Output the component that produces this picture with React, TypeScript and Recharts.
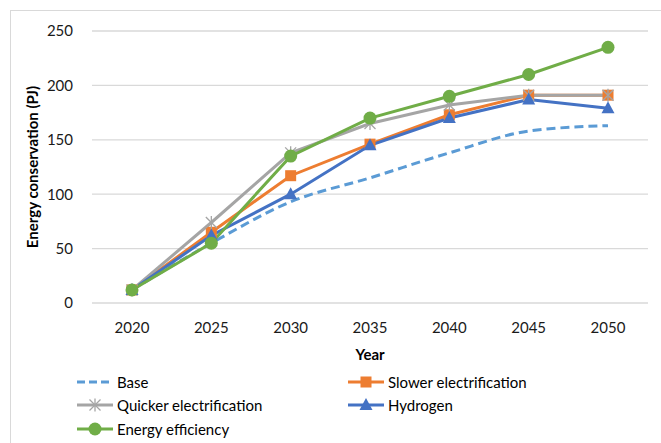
import React from 'react'
import { CartesianGrid, Line, LineChart, XAxis, YAxis } from 'recharts'

const years = ['2020', '2025', '2030', '2035', '2040', '2045', '2050']
const base = [12, 55, 93, 115, 138, 158, 163]
const slower = [12, 65, 117, 146, 173, 191, 191]
const quicker = [12, 74, 138, 165, 182, 191, 191]
const hydrogen = [12, 62, 100, 145, 170, 187, 179]
const efficiency = [12, 55, 135, 170, 190, 210, 235]
const yTicks = [0, 50, 100, 150, 200, 250]

const data = years.map((year, i) => ({
    year,
    base: base[i],
    slower: slower[i],
    quicker: quicker[i],
    hydrogen: hydrogen[i],
    efficiency: efficiency[i],
}))

type Marker = 'none' | 'square' | 'star' | 'triangle' | 'circle'

interface SeriesDef {
    key: string
    name: string
    color: string
    marker: Marker
    dashed?: boolean
    smooth?: boolean
}

const series: SeriesDef[] = [
    { key: 'base', name: 'Base', color: '#5B9BD5', marker: 'none', dashed: true, smooth: true },
    { key: 'slower', name: 'Slower electrification', color: '#ED7D31', marker: 'square' },
    { key: 'quicker', name: 'Quicker electrification', color: '#A5A5A5', marker: 'star' },
    { key: 'hydrogen', name: 'Hydrogen', color: '#4472C4', marker: 'triangle' },
    { key: 'efficiency', name: 'Energy efficiency', color: '#70AD47', marker: 'circle' },
]

// legend order: two columns, filled row by row
const legendOrder = ['base', 'slower', 'quicker', 'hydrogen', 'efficiency']

const FONT = 'Lato, "Noto Sans", sans-serif'

function markerShape(marker: Marker, color: string, cx: number, cy: number, key?: string | number) {
    switch (marker) {
        case 'square':
            return <rect key={key} x={cx - 5.5} y={cy - 5.5} width={11} height={11} fill={color} />
        case 'triangle':
            return (
                <polygon
                    key={key}
                    points={`${cx},${cy - 7} ${cx + 6.5},${cy + 5} ${cx - 6.5},${cy + 5}`}
                    fill={color}
                />
            )
        case 'circle':
            return <circle key={key} cx={cx} cy={cy} r={6.5} fill={color} />
        case 'star':
            return (
                <g key={key} stroke={color} strokeWidth={1.3}>
                    <line x1={cx} y1={cy - 6.5} x2={cx} y2={cy + 6.5} />
                    <line x1={cx - 5.5} y1={cy - 5.5} x2={cx + 5.5} y2={cy + 5.5} />
                    <line x1={cx - 5.5} y1={cy + 5.5} x2={cx + 5.5} y2={cy - 5.5} />
                </g>
            )
        default:
            return <g key={key} />
    }
}

function LegendIcon({ s }: { s: SeriesDef }) {
    return (
        <svg width={36} height={14} style={{ display: 'block' }}>
            <line
                x1={0}
                y1={7}
                x2={36}
                y2={7}
                stroke={s.color}
                strokeWidth={3}
                strokeDasharray={s.dashed ? '8 4' : undefined}
            />
            {markerShape(s.marker, s.color, 18, 7)}
        </svg>
    )
}

// vertical axis title, centred on the plot height
function YTitle(props: any) {
    const vb = props.viewBox || {}
    const x = 32
    const y = (vb.y ?? 31) + (vb.height ?? 272) / 2
    return (
        <text
            x={x}
            y={y}
            transform={`rotate(-90, ${x}, ${y})`}
            textAnchor="middle"
            dominantBaseline="central"
            fill="#000"
            fontSize={15}
            fontWeight={700}
        >
            Energy conservation (PJ)
        </text>
    )
}

export default function App() {
    const legendItems = legendOrder.map((k) => series.find((s) => s.key === k)!)

    return (
        <div
            style={{
                position: 'fixed',
                left: 0,
                top: 0,
                width: 661,
                height: 443,
                overflow: 'hidden',
                background: '#fff',
                fontFamily: FONT,
            }}
        >
            <div
                style={{
                    position: 'absolute',
                    left: 10,
                    top: 10,
                    width: 700,
                    height: 500,
                    border: '1px solid #D9D9D9',
                }}
            />
            <div style={{ position: 'absolute', left: 0, top: 0 }}>
                <LineChart width={661} height={443} data={data} margin={{ top: 31, right: 13, left: 0, bottom: 80 }}>
                    <CartesianGrid vertical={false} stroke="#D9D9D9" strokeWidth={1.3} />
                    <XAxis
                        dataKey="year"
                        height={60}
                        padding={{ left: 40, right: 40 }}
                        axisLine={false}
                        tickLine={false}
                        tickMargin={13}
                        tick={{ fill: '#1a1a1a', fontSize: 15 }}
                        label={{
                            value: 'Year',
                            position: 'insideTop',
                            offset: 46,
                            style: { fill: '#000', fontSize: 15, fontWeight: 700 },
                        }}
                    />
                    <YAxis
                        width={92}
                        domain={[0, 250]}
                        ticks={yTicks}
                        axisLine={false}
                        tickLine={false}
                        tickMargin={13}
                        tick={{ fill: '#1a1a1a', fontSize: 15 }}
                        label={{ content: YTitle }}
                    />
                    {series.map((s) => (
                        <Line
                            key={s.key}
                            dataKey={s.key}
                            name={s.name}
                            type={s.smooth ? 'monotone' : 'linear'}
                            stroke={s.color}
                            strokeWidth={3}
                            strokeDasharray={s.dashed ? '9 5' : undefined}
                            isAnimationActive={false}
                            activeDot={false}
                            dot={
                                s.marker === 'none'
                                    ? false
                                    : (props: any) => markerShape(s.marker, s.color, props.cx, props.cy, `${s.key}-${props.index}`)
                            }
                        />
                    ))}
                </LineChart>
            </div>
            <div
                style={{
                    position: 'absolute',
                    left: 77,
                    top: 370,
                    display: 'grid',
                    gridTemplateColumns: '271px auto',
                    gridAutoRows: '23.5px',
                    fontSize: 15,
                    color: '#000',
                }}
            >
                {legendItems.map((s) => (
                    <div key={s.key} style={{ display: 'flex', alignItems: 'center', gap: 4 }}>
                        <LegendIcon s={s} />
                        <span>{s.name}</span>
                    </div>
                ))}
            </div>
        </div>
    )
}
